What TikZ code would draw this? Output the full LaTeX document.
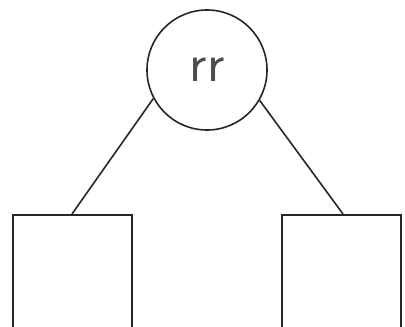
\documentclass[tikz,border=0pt]{standalone}
\begin{document}
\begin{tikzpicture}[x=1pt,y=-1pt,
  edge/.style={line width=1.6pt,black!85},
  leaf/.style={draw,line width=1.6pt,black!85,minimum width=119pt,minimum height=120pt,inner sep=0pt,anchor=north west},
  root/.style={draw,circle,line width=1.6pt,black!85,minimum size=120pt,inner sep=0pt,font=\sffamily\fontsize{54}{54}\selectfont,text=black!70}]
\useasboundingbox (0,0) rectangle (405,327);
\clip (0,0) rectangle (405,327);
\node[root] (r) at (207,70) {rr};
\node[leaf] (a) at (12,214) {};
\node[leaf] (b) at (281,214) {};
\draw[edge] (r.208) -- (a.north -| 72,0);
\draw[edge] (r.330) -- (b.north -| 343,0);
\end{tikzpicture}
\end{document}
